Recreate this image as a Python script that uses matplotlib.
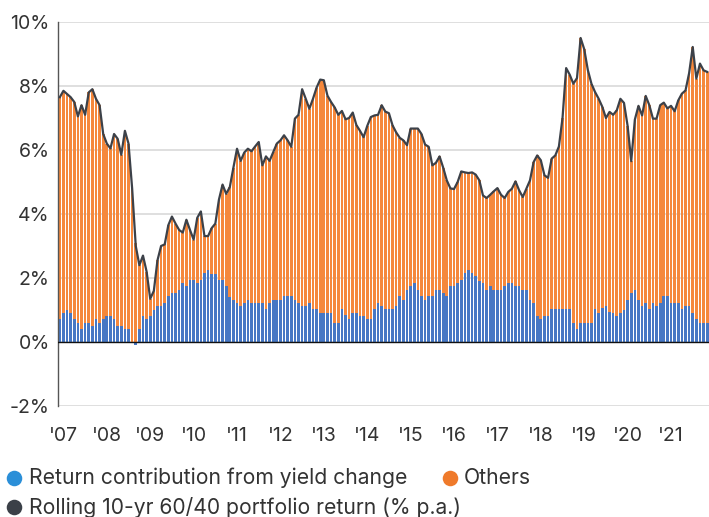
import matplotlib
matplotlib.use("Agg")
import matplotlib.pyplot as plt
import numpy as np

# Monthly values, Jan 2007 .. Dec 2021 (% p.a.)
total = [7.65, 7.85, 7.75, 7.65, 7.5, 7.05, 7.4, 7.1, 7.8, 7.9, 7.6, 7.4,
         6.5, 6.2, 6.05, 6.5, 6.35, 5.85, 6.6, 6.2, 4.8, 3.0, 2.4, 2.7,
         2.2, 1.35, 1.6, 2.55, 3.0, 3.05, 3.65, 3.92, 3.7, 3.5, 3.42, 3.82,
         3.5, 3.2, 3.88, 4.08, 3.31, 3.31, 3.56, 3.7, 4.45, 4.92, 4.63, 4.84,
         5.45, 6.04, 5.66, 5.92, 6.04, 5.96, 6.11, 6.25, 5.52, 5.8, 5.66, 5.93,
         6.2, 6.3, 6.46, 6.3, 6.1, 6.98, 7.1, 7.9, 7.6, 7.29, 7.6, 7.95,
         8.2, 8.18, 7.7, 7.5, 7.33, 7.1, 7.22, 6.96, 7.0, 7.17, 6.78, 6.6,
         6.4, 6.75, 7.03, 7.08, 7.1, 7.4, 7.2, 7.15, 6.77, 6.55, 6.38, 6.3,
         6.15, 6.67, 6.67, 6.67, 6.5, 6.17, 6.1, 5.52, 5.6, 5.8, 5.45, 5.05,
         4.8, 4.78, 5.0, 5.33, 5.3, 5.28, 5.3, 5.23, 5.05, 4.58, 4.5, 4.6,
         4.71, 4.81, 4.6, 4.5, 4.69, 4.79, 5.02, 4.74, 4.53, 4.79, 5.05, 5.62,
         5.83, 5.68, 5.21, 5.13, 5.73, 5.83, 6.11, 7.0, 8.56, 8.35, 8.07, 8.25,
         9.5, 9.15, 8.5, 8.07, 7.81, 7.6, 7.35, 7.0, 7.19, 7.1, 7.24, 7.6,
         7.47, 6.75, 5.65, 6.95, 7.38, 7.08, 7.69, 7.4, 6.98, 6.98, 7.4, 7.48,
         7.3, 7.38, 7.21, 7.55, 7.76, 7.86, 8.4, 9.22, 8.23, 8.7, 8.49, 8.44]

yield_contrib = [0.71, 0.9, 1.0, 0.9, 0.71, 0.6, 0.42, 0.6, 0.6, 0.5, 0.71, 0.6,
                 0.71, 0.8, 0.8, 0.71, 0.5, 0.5, 0.4, 0.4, 0.0, -0.08, 0.42, 0.8,
                 0.71, 0.8, 1.0, 1.12, 1.12, 1.23, 1.43, 1.53, 1.53, 1.64, 1.84, 1.74,
                 1.95, 1.95, 1.84, 1.95, 2.16, 2.24, 2.14, 2.14, 1.95, 1.95, 1.74, 1.4,
                 1.32, 1.22, 1.11, 1.22, 1.32, 1.23, 1.23, 1.23, 1.23, 1.02, 1.23, 1.32,
                 1.32, 1.32, 1.43, 1.43, 1.43, 1.32, 1.23, 1.12, 1.12, 1.23, 1.02, 1.02,
                 0.92, 0.92, 0.92, 0.92, 0.6, 0.6, 1.02, 0.83, 0.71, 0.92, 0.92, 0.81,
                 0.81, 0.71, 0.71, 1.02, 1.23, 1.12, 1.02, 1.02, 1.02, 1.12, 1.43, 1.32,
                 1.64, 1.74, 1.84, 1.64, 1.43, 1.32, 1.43, 1.43, 1.64, 1.64, 1.53, 1.43,
                 1.74, 1.74, 1.84, 1.95, 2.16, 2.24, 2.16, 2.05, 1.9, 1.84, 1.64, 1.74,
                 1.64, 1.64, 1.64, 1.74, 1.84, 1.84, 1.74, 1.74, 1.64, 1.64, 1.32, 1.23,
                 0.81, 0.71, 0.81, 0.81, 1.02, 1.02, 1.02, 1.02, 1.02, 1.02, 0.6, 0.42,
                 0.6, 0.6, 0.6, 0.6, 1.02, 0.92, 1.05, 1.11, 0.95, 0.92, 0.81, 0.92,
                 1.0, 1.32, 1.53, 1.61, 1.32, 1.11, 1.23, 1.02, 1.23, 1.11, 1.23, 1.43,
                 1.43, 1.23, 1.23, 1.23, 1.02, 1.11, 1.11, 0.9, 0.71, 0.6, 0.6, 0.6]

year_labels = ["'07", "'08", "'09", "'10", "'11", "'12", "'13", "'14",
               "'15", "'16", "'17", "'18", "'19", "'20", "'21"]
y_ticks = [-2, 0, 2, 4, 6, 8, 10]
legend_labels = ["Return contribution from yield change", "Others",
                 "Rolling 10-yr 60/40 portfolio return (% p.a.)"]

BLUE = "#4677c4"
ORANGE = "#f5883c"
LINE = "#3c4149"
LEG_BLUE = "#2b8fd8"
LEG_ORANGE = "#ef7a2b"
LEG_DARK = "#3b4048"
FONT = ["Inter", "DejaVu Sans"]
TXT = "#333333"

total_a = np.array(total)
blue_a = np.array(yield_contrib)
others = total_a - blue_a
x = np.arange(len(total_a))

W, H = 709, 517
fig = plt.figure(figsize=(W / 100, H / 100), dpi=100)
ax = fig.add_axes([58 / W, (H - 406) / H, (W - 58) / W, 384 / H])

ax.set_ylim(-2, 10)
ax.set_xlim(-0.5, len(x) - 0.5)
for t in y_ticks:
    ax.axhline(t, color="#d9d9d9", lw=1.2, zorder=0)

ax.bar(x, blue_a, width=0.74, color=BLUE, linewidth=0, zorder=2)
ax.bar(x, others, width=0.74, bottom=np.maximum(blue_a, 0), color=ORANGE,
       linewidth=0, zorder=2)
ax.axhline(0, color="#111111", lw=1.0, zorder=3)
ax.plot(x, total_a, color=LINE, lw=1.6, zorder=4, solid_joinstyle="round")

for s in ["top", "right", "bottom"]:
    ax.spines[s].set_visible(False)
ax.spines["left"].set_color("#555555")
ax.spines["left"].set_linewidth(1.0)

ax.set_yticks(y_ticks)
ax.set_yticklabels([f"{t}%" for t in y_ticks], fontsize=14, color=TXT,
                   family=FONT)
ax.set_xticks([12 * k + 1 for k in range(len(year_labels))])
ax.set_xticklabels(year_labels, fontsize=14, color=TXT, family=FONT)
ax.tick_params(axis="both", length=0)
ax.tick_params(axis="y", pad=6)
ax.tick_params(axis="x", pad=15)

# Legend overlay in pixel coordinates
lg = fig.add_axes([0, 0, 1, 1], zorder=10)
lg.set_xlim(0, W)
lg.set_ylim(H, 0)
lg.axis("off")
lg.scatter([14], [478], s=125, color=LEG_BLUE, linewidths=0)
lg.text(29, 478, legend_labels[0], fontsize=15.2, color=TXT, family=FONT,
        va="center", ha="left")
lg.scatter([450], [478], s=125, color=LEG_ORANGE, linewidths=0)
lg.text(464, 478, legend_labels[1], fontsize=15.2, color=TXT, family=FONT,
        va="center", ha="left")
lg.scatter([14], [507], s=125, color=LEG_DARK, linewidths=0)
lg.text(29, 507, legend_labels[2], fontsize=15.2, color=TXT, family=FONT,
        va="center", ha="left")

fig.savefig("out.png", dpi=100)
